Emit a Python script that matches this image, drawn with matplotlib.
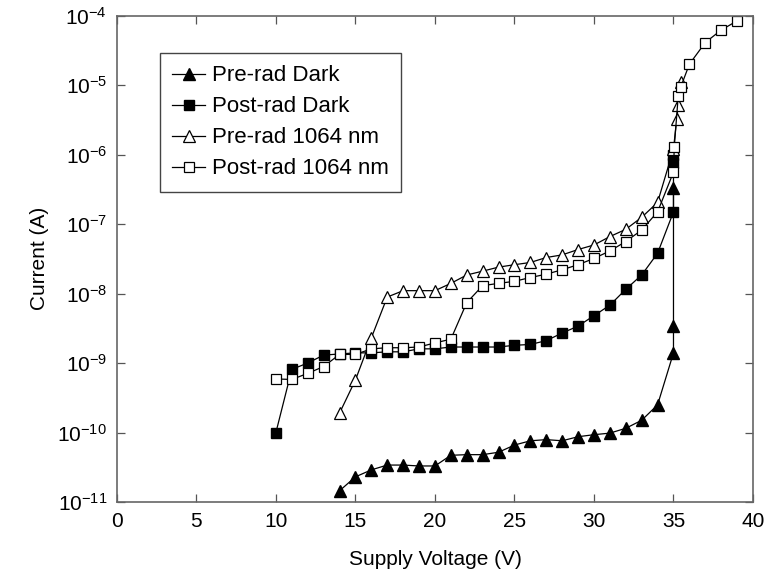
import matplotlib
matplotlib.use("Agg")
from matplotlib import pyplot as plt
from matplotlib.ticker import LogLocator, NullLocator

plt.rcParams['font.family'] = ['Liberation Sans', 'DejaVu Sans']
plt.rcParams['mathtext.fontset'] = 'custom'
plt.rcParams['mathtext.rm'] = 'Liberation Sans'
plt.rcParams['mathtext.it'] = 'Liberation Sans:italic'
plt.rcParams['mathtext.bf'] = 'Liberation Sans:bold'

# pre-rad, dark
pre_dark_v = [14, 15, 16, 17, 18, 19, 20, 21, 22, 23, 24, 25, 26, 27, 28, 29, 30,
              31, 32, 33, 34, 35, 35, 35]
pre_dark_i = [1.45e-11, 2.3e-11, 2.9e-11, 3.4e-11, 3.4e-11, 3.3e-11, 3.3e-11,
              4.7e-11, 4.8e-11, 4.8e-11, 5.2e-11, 6.6e-11, 7.6e-11, 7.9e-11,
              7.6e-11, 8.7e-11, 9.3e-11, 9.8e-11, 1.15e-10, 1.5e-10, 2.5e-10,
              1.4e-9, 3.4e-9, 3.3e-7]

# post-rad, dark
post_dark_v = [10, 11, 12, 13, 14, 15, 16, 17, 18, 19, 20, 21, 22, 23, 24, 25, 26,
               27, 28, 29, 30, 31, 32, 33, 34, 35, 35, 35]
post_dark_i = [1.0e-10, 8.1e-10, 1.0e-9, 1.3e-9, 1.35e-9, 1.4e-9, 1.4e-9, 1.45e-9,
               1.45e-9, 1.6e-9, 1.6e-9, 1.7e-9, 1.7e-9, 1.7e-9, 1.7e-9, 1.8e-9,
               1.85e-9, 2.1e-9, 2.7e-9, 3.4e-9, 4.8e-9, 6.8e-9, 1.15e-8, 1.85e-8,
               3.8e-8, 1.5e-7, 7.5e-7, 1.0e-6]

# pre-rad, 1064 nm
pre_las_v = [14, 15, 16, 17, 18, 19, 20, 21, 22, 23, 24, 25, 26, 27, 28, 29, 30,
             31, 32, 33, 34, 35, 35.2, 35.3, 35.5]
pre_las_i = [1.9e-10, 5.7e-10, 2.3e-9, 8.9e-9, 1.1e-8, 1.1e-8, 1.1e-8, 1.4e-8,
             1.85e-8, 2.1e-8, 2.4e-8, 2.6e-8, 2.8e-8, 3.3e-8, 3.6e-8, 4.3e-8,
             5.0e-8, 6.6e-8, 8.4e-8, 1.25e-7, 2.05e-7, 1.2e-6, 3.2e-6, 5.2e-6,
             1.1e-5]

# post-rad, 1064 nm
post_las_v = [10, 11, 12, 13, 14, 15, 16, 17, 18, 19, 20, 21, 22, 23, 24, 25, 26,
              27, 28, 29, 30, 31, 32, 33, 34, 35, 35.05, 35.3, 35.45, 36, 37, 38, 39]
post_las_i = [5.9e-10, 5.8e-10, 7.1e-10, 8.9e-10, 1.33e-9, 1.33e-9, 1.6e-9,
              1.66e-9, 1.66e-9, 1.7e-9, 1.95e-9, 2.2e-9, 7.4e-9, 1.3e-8, 1.4e-8,
              1.5e-8, 1.7e-8, 1.9e-8, 2.2e-8, 2.6e-8, 3.2e-8, 4.1e-8, 5.6e-8,
              8.2e-8, 1.5e-7, 5.6e-7, 1.3e-6, 7.0e-6, 9.3e-6, 2.0e-5, 4.1e-5,
              6.2e-5, 8.4e-5]

fig = plt.figure(figsize=(7.64, 5.78), dpi=100)
ax = fig.add_axes([0.153, 0.1315, 0.8326, 0.8415])

lw = 0.9
ax.plot(pre_dark_v, pre_dark_i, '-^', color='black', lw=lw, ms=8,
        mfc='black', mec='black', label='Pre-rad Dark')
ax.plot(post_dark_v, post_dark_i, '-s', color='black', lw=lw, ms=6.5,
        mfc='black', mec='black', label='Post-rad Dark')
ax.plot(pre_las_v, pre_las_i, '-^', color='black', lw=lw, ms=8,
        mfc='white', mec='black', mew=0.9, label='Pre-rad 1064 nm')
ax.plot(post_las_v, post_las_i, '-s', color='black', lw=lw, ms=6.5,
        mfc='white', mec='black', mew=0.9, label='Post-rad 1064 nm')

ax.set_yscale('log')
ax.set_xlim(0, 40)
ax.set_ylim(1e-11, 1e-4)
ax.set_xticks(range(0, 41, 5))
ax.yaxis.set_major_locator(LogLocator(base=10, numticks=10))
ax.yaxis.set_minor_locator(NullLocator())

ax.tick_params(direction='in', length=6, width=0.9, top=True, right=True,
               labelsize=15, pad=7, colors='#555555', labelcolor='black')
for s in ax.spines.values():
    s.set_color('#666666')
    s.set_linewidth(1.2)

ax.set_xlabel('Supply Voltage (V)', fontsize=15, labelpad=14)
ax.set_ylabel('Current (A)', fontsize=15, labelpad=6)

leg = ax.legend(loc='upper left', bbox_to_anchor=(0.0676, 0.923), fontsize=16,
                handlelength=1.5, handletextpad=0.3, labelspacing=0.45,
                borderpad=0.55, borderaxespad=0, fancybox=False, framealpha=1)
leg.get_frame().set_edgecolor('#444444')
leg.get_frame().set_linewidth(1.0)

plt.savefig('out.png', dpi=100)
